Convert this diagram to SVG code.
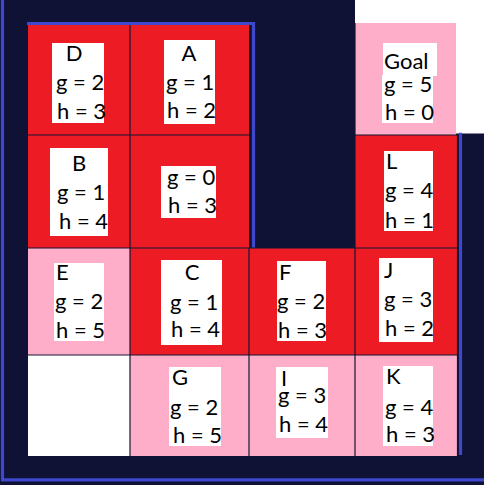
<svg xmlns="http://www.w3.org/2000/svg" width="484" height="485" viewBox="0 0 484 485">
<style>
.red{fill:#ed1c24}
.pink{fill:#ffaec9}
.wh{fill:#ffffff}
.grid{stroke:#141432;stroke-width:1.2;fill:none}
.bl{stroke:#3f48cc;stroke-width:3.2;fill:none}
.box{fill:#ffffff}
text{font-family:Lato,"Liberation Sans",sans-serif;font-size:22px;fill:#000}
</style>
<rect x="0" y="0" width="484" height="485" fill="#0f1235"/>
<rect x="355" y="0" width="129" height="133.5" fill="#ffffff"/>
<g id="cells">
<rect class="red" x="28" y="25" width="102" height="110"/>
<rect class="red" x="130" y="25" width="119" height="110"/>
<rect class="pink" x="355" y="23" width="101" height="112"/>
<rect class="red" x="28" y="135" width="102" height="113"/>
<rect class="red" x="130" y="135" width="119" height="113"/>
<rect class="red" x="355" y="135" width="102.5" height="113"/>
<rect class="pink" x="28" y="248" width="102" height="107"/>
<rect class="red" x="130" y="248" width="119" height="107"/>
<rect class="red" x="249" y="248" width="106" height="107"/>
<rect class="red" x="355" y="248" width="102.5" height="107"/>
<rect class="wh" x="28" y="355" width="102" height="101"/>
<rect class="pink" x="130" y="355" width="119" height="101"/>
<rect class="pink" x="249" y="355" width="106" height="101"/>
<rect class="pink" x="355" y="355" width="102.5" height="101"/>
</g>
<g id="gridlines">
<path class="grid" d="M130 25V456M28 135H249M28 248H457.5M28 355H457.5M249 248V456M355 23V456M355 135H457.5M457.5 135V456"/>
</g>
<g id="walls">
<path class="bl" d="M27 23.5H253.5V247.5"/>
<path class="bl" d="M460.5 132.7V455"/>
<path class="bl" d="M2.5 0V479.8H484"/>
</g>
<g id="D"><rect class="box" x="52" y="43" width="52" height="80"/>
<text x="74" y="61" text-anchor="middle">D</text><text x="56" y="90">g = 2</text><text x="57" y="119">h = 3</text></g>
<g id="A"><rect class="box" x="164" y="40" width="51" height="84"/>
<text x="189" y="61" text-anchor="middle">A</text><text x="166" y="90">g = 1</text><text x="167" y="118">h = 2</text></g>
<g id="B"><rect class="box" x="50" y="148" width="58" height="88"/>
<text x="79" y="171" text-anchor="middle">B</text><text x="57" y="200">g = 1</text><text x="59" y="229">h = 4</text></g>
<g id="S"><rect class="box" x="161" y="166" width="55" height="52"/>
<text x="167" y="185">g = 0</text><text x="168" y="213">h = 3</text></g>
<g id="Goal"><rect class="box" x="383" y="43" width="54" height="33"/><rect class="box" x="382" y="75" width="51" height="48"/>
<text x="384" y="69">Goal</text><text x="384" y="92">g = 5</text><text x="385" y="120">h = 0</text></g>
<g id="L"><rect class="box" x="384" y="151" width="49" height="80"/>
<text x="386" y="169">L</text><text x="385" y="198">g = 4</text><text x="385" y="228">h = 1</text></g>
<g id="E"><rect class="box" x="54" y="263" width="50" height="78"/>
<text x="56" y="280">E</text><text x="55" y="309">g = 2</text><text x="56" y="338">h = 5</text></g>
<g id="C"><rect class="box" x="161" y="260" width="61" height="85"/>
<text x="192" y="280" text-anchor="middle">C</text><text x="170" y="310">g = 1</text><text x="171" y="337">h = 4</text></g>
<g id="F"><rect class="box" x="277" y="261" width="49" height="80"/>
<text x="279" y="280">F</text><text x="277" y="309">g = 2</text><text x="278" y="338">h = 3</text></g>
<g id="J"><rect class="box" x="379" y="258" width="54" height="84"/>
<text x="384" y="278">J</text><text x="384" y="307">g = 3</text><text x="385" y="336">h = 2</text></g>
<g id="G"><rect class="box" x="169" y="367" width="52" height="79"/>
<text x="172" y="385">G</text><text x="170" y="415">g = 2</text><text x="173" y="443">h = 5</text></g>
<g id="I"><rect class="box" x="276" y="367" width="52" height="71"/>
<text x="281" y="386">I</text><text x="278" y="403">g = 3</text><text x="279" y="432">h = 4</text></g>
<g id="K"><rect class="box" x="383" y="366" width="50" height="80"/>
<text x="386" y="384">K</text><text x="385" y="415">g = 4</text><text x="386" y="442">h = 3</text></g>
</svg>
